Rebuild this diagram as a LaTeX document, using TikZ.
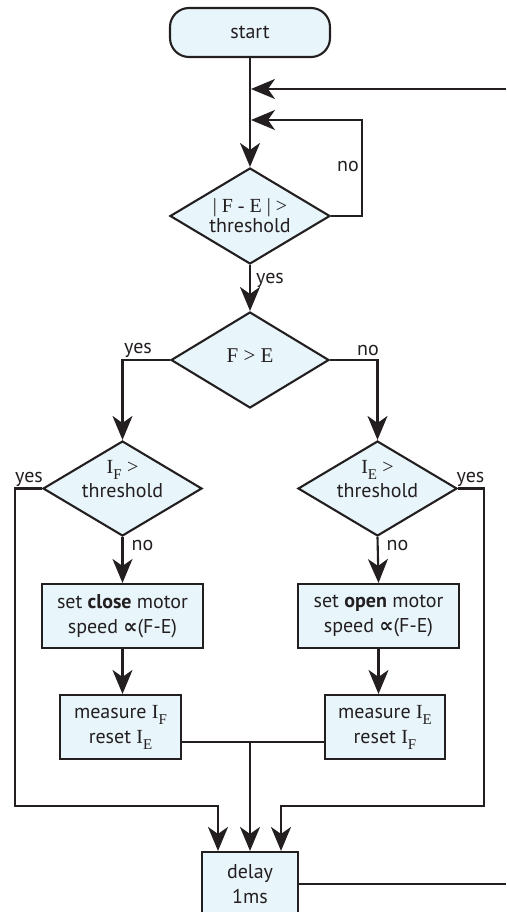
\documentclass[tikz,border=0pt]{standalone}
\usepackage{fontspec}
\setmainfont{PT Sans}
\newfontfamily\serifpart{Liberation Serif}
\newfontfamily\symfont{DejaVu Sans}
\usetikzlibrary{arrows.meta,shapes.geometric}

\definecolor{ink}{HTML}{231F20}
\definecolor{boxfill}{HTML}{E8F5FB}

% serif letters and serif subscripts used in the conditions
\newcommand{\sv}[1]{{\serifpart\fontsize{20}{20}\selectfont #1}}
\newcommand{\sbs}[1]{\raisebox{-6pt}{\serifpart\fontsize{15}{15}\selectfont #1}}
\newcommand{\prop}{{\symfont\bfseries ∝}}

\begin{document}
\begin{tikzpicture}[x=1pt,y=-1pt,
  line width=2.1pt, draw=ink,
  every node/.style={text=ink, font=\fontsize{20}{25}\selectfont},
  flow/.style={draw=ink, -{Stealth[length=24pt,width=20pt,inset=7pt]}},
  wire/.style={draw=ink},
  startbox/.style={draw=ink, fill=boxfill, rounded corners=19pt,
    minimum width=160pt, minimum height=49pt, inner sep=0pt},
  dia/.style={draw=ink, fill=boxfill, diamond, aspect=1.667,
    minimum width=160pt, minimum height=96pt, inner sep=0pt},
  diatext/.style={align=center, inner sep=0pt},
  procbox/.style={draw=ink, fill=boxfill, align=center, inner sep=0pt,
    minimum height=64pt},
  tag/.style={anchor=base, inner sep=0pt}]

\useasboundingbox (0,0) rectangle (506,912);

% ---- nodes ----
\node[startbox] (start) at (250,32.5) {start};

\node[dia] (d1) at (250,216)
  [label={[diatext,font=\fontsize{20}{20}\selectfont,yshift=0.5pt]center:{\sv{| F - E | >}\\threshold}}] {};
\node[dia, minimum width=158pt] (d2) at (250,360)
  [label={[diatext,yshift=4.5pt]center:{{\serifpart\fontsize{21}{21}\selectfont F > E}}}] {};
\node[dia, minimum width=159pt, minimum height=95pt] (d3) at (122.5,488.5)
  [label={[diatext,font=\fontsize{20}{24}\selectfont,yshift=9.5pt]center:{\sv{I}\sbs{F} \sv{>}\\threshold}}] {};
\node[dia, minimum width=159pt, minimum height=95pt] (d4) at (377.5,488.5)
  [label={[diatext,font=\fontsize{20}{24}\selectfont,yshift=9.5pt]center:{\sv{I}\sbs{E} \sv{>}\\threshold}}] {};

\node[procbox, minimum width=161pt] (close) at (122.5,616)
  {set \textbf{close} motor\\speed \prop(F-E)};
\node[procbox, minimum width=161pt] (open) at (378.5,616)
  {set \textbf{open} motor\\speed \prop(F-E)};
\node[procbox, minimum width=121pt] (measF) at (120.5,727)
  {measure \sv{I}\sbs{F}\\reset \sv{I}\sbs{E}};
\node[procbox, minimum width=120pt] (measE) at (385,727)
  {measure \sv{I}\sbs{E}\\reset \sv{I}\sbs{F}};
\node[procbox, minimum width=96pt, minimum height=64pt] (delay) at (250,884)
  {delay\\1ms};

% ---- branch labels ----
\node[tag] (no1)  at (348,171.5) {no};
\node[tag] (yes1) at (270,283) {yes};
\node[tag] (yes2) at (138,353) {yes};
\node[tag] (no2)  at (368,355) {no};
\node[tag] (yes3) at (29,482) {yes};
\node[tag] (yes4) at (470.5,482) {yes};
\node[tag] (no3)  at (142.5,550) {no};
\node[tag] (no4)  at (397.5,550) {no};

% ---- helper points ----
\coordinate (rin)  at (506,89);
\coordinate (m1)   at (251,89);
\coordinate (lp)   at (362,120);
\coordinate (m2)   at (251,120);
\coordinate (lcor) at (15,806);
\coordinate (rcor) at (484,806);
\coordinate (jn)   at (250,742);
\coordinate (rout) at (506,884);

% ---- connectors ----
\draw[flow] (start) -- (d1);
\draw[flow] (rin) -- (m1);
\draw[flow] (d1.east) -| (lp) -- (m2);
\draw[flow] (d1.south) -- (d2.north);
\draw[flow] (d2.west) -| (d3.north);
\draw[flow] (d2.east) -| (d4.north);
\draw[flow] (d3.south) -- (close.north);
\draw[flow] (d4.south) -- (open.north);
\draw[flow] (close.south) -- (close.south |- measF.north);
\draw[flow] (open.south) -- (open.south |- measE.north);
\draw[flow] (d3.west) -| (lcor) -| ([xshift=-32pt]delay.north);
\draw[flow] (d4.east) -| (rcor) -| ([xshift=31pt]delay.north);
\draw[wire] (measF.east |- jn) -- (measE.west |- jn);
\draw[flow] (jn) -- (delay.north);
\draw[wire] (delay.east) -- (rout);
\end{tikzpicture}
\end{document}
